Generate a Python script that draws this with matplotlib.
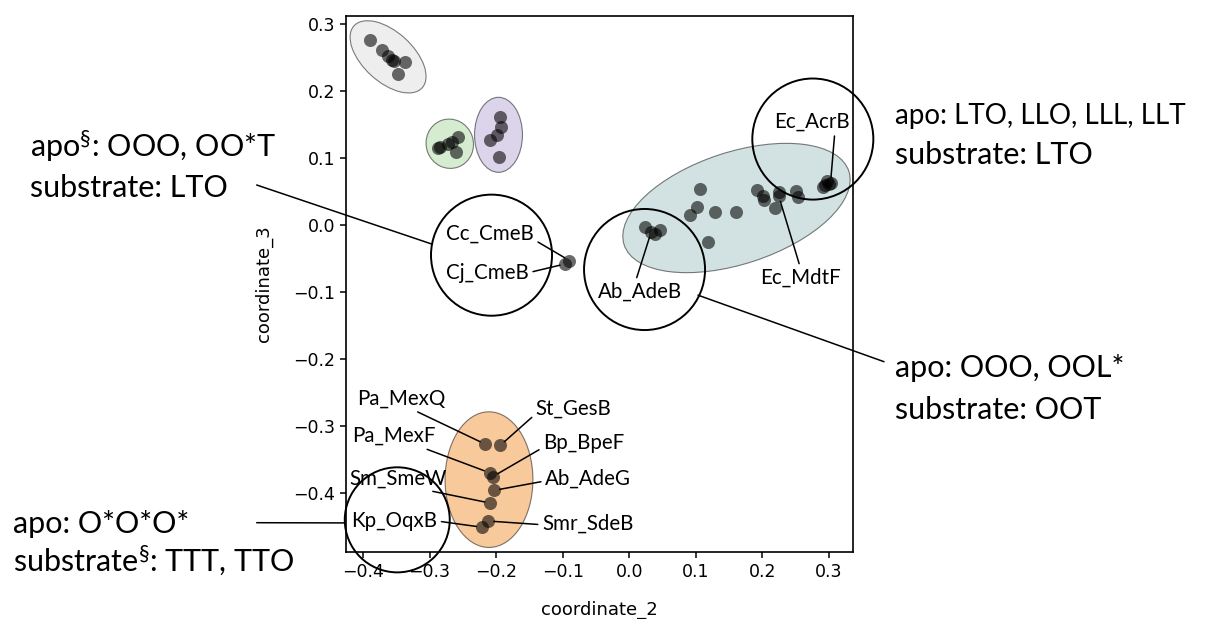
import matplotlib
matplotlib.use('Agg')
import matplotlib.pyplot as plt
from matplotlib.patches import Ellipse

plt.rcParams['mathtext.fontset'] = 'custom'
plt.rcParams['mathtext.rm'] = 'Lato'
plt.rcParams['mathtext.it'] = 'Lato'
plt.rcParams['mathtext.bf'] = 'Lato'

# MDS coordinates, one group per shaded cluster
gray_x = [-0.3895, -0.371, -0.362, -0.357, -0.353, -0.337, -0.348]
gray_y = [0.276, 0.261, 0.252, 0.247, 0.245, 0.243, 0.225]

green_x = [-0.288, -0.284, -0.272, -0.267, -0.257, -0.261]
green_y = [0.115, 0.117, 0.121, 0.124, 0.132, 0.109]

purple_x = [-0.194, -0.193, -0.199, -0.209, -0.1965]
purple_y = [0.161, 0.147, 0.134, 0.127, 0.101]

teal_x = [0.1058, 0.1018, 0.0917, 0.1293, 0.1609, 0.1178, 0.024, 0.033, 0.039, 0.0466,
          0.192, 0.201, 0.203, 0.2195, 0.2245, 0.2256, 0.251, 0.253,
          0.2913, 0.2973, 0.2997, 0.2947, 0.3023]
teal_y = [0.0537, 0.0264, 0.0149, 0.0199, 0.0199, -0.0258, -0.0025, -0.010, -0.0134, -0.0075,
          0.052, 0.0433, 0.0373, 0.0249, 0.0433, 0.0497, 0.0507, 0.0413,
          0.0563, 0.066, 0.0612, 0.0597, 0.0631]

cme_x = [-0.096, -0.090]
cme_y = [-0.058, -0.053]

orange_x = [-0.2165, -0.194, -0.210, -0.205, -0.203, -0.209, -0.2116, -0.2215]
orange_y = [-0.327, -0.329, -0.3697, -0.3754, -0.396, -0.415, -0.4418, -0.451]

groups = {
    'gray': (gray_x, gray_y),
    'green': (green_x, green_y),
    'purple': (purple_x, purple_y),
    'teal': (teal_x, teal_y),
    'cme': (cme_x, cme_y),
    'orange': (orange_x, orange_y),
}

# transporter labels: (name, group, index of point, label position, relpos of leader line)
labels = [
    ('Cc_CmeB', 'cme', 1, (-0.209, -0.013), (1.0, 0.2)),
    ('Cj_CmeB', 'cme', 0, (-0.213, -0.071), (1.0, 0.5)),
    ('Ab_AdeB', 'teal', 7, (0.0155, -0.0996), (0.45, 1.0)),
    ('Ec_AcrB', 'teal', 22, (0.2747, 0.154), (0.8, 0.0)),
    ('Ec_MdtF', 'teal', 14, (0.257, -0.0787), (0.5, 1.0)),
    ('Pa_MexQ', 'orange', 0, (-0.3418, -0.259), (0.6, 0.0)),
    ('St_GesB', 'orange', 1, (-0.0839, -0.2746), (0.0, 0.25)),
    ('Pa_MexF', 'orange', 2, (-0.3544, -0.315), (0.8, 0.0)),
    ('Bp_BpeF', 'orange', 3, (-0.0686, -0.326), (0.0, 0.3)),
    ('Ab_AdeG', 'orange', 4, (-0.062, -0.379), (0.0, 0.4)),
    ('Sm_SmeW', 'orange', 5, (-0.3469, -0.378), (0.7, 0.0)),
    ('Smr_SdeB', 'orange', 6, (-0.0626, -0.4458), (0.0, 0.45)),
    ('Kp_OqxB', 'orange', 7, (-0.353, -0.4418), (1.0, 0.5)),
]

# shaded cluster ellipses: center, width, height, angle, face colour
hulls = [
    ((-0.3624, 0.251), 0.138, 0.075, -42, '#eeeeee'),
    ((-0.2697, 0.1213), 0.071, 0.074, 20, '#d6ecd1'),
    ((-0.1965, 0.1346), 0.072, 0.112, 0, '#dcd4eb'),
    ((0.161, 0.0254), 0.355, 0.167, 18, '#d2e2e2'),
    ((-0.2108, -0.380), 0.132, 0.2025, 0, '#f8c99b'),
]

# open circles marking the annotated transporters
rings = [
    ((-0.207, -0.045), 0.1818, 0.1807),
    ((0.0229, -0.0664), 0.1818, 0.1807),
    ((0.2757, 0.1283), 0.1818, 0.1807),
    ((-0.3486, -0.440), 0.1577, 0.1568),
]

W, H = 1208, 619
fig = plt.figure(figsize=(W / 100, H / 100), dpi=100)
ax = fig.add_axes([346 / W, 1 - 552 / H, (852.7 - 346) / W, (552 - 15.7) / H])

for (c, w, h, ang, fc) in hulls:
    ax.add_patch(Ellipse(c, w, h, angle=ang, facecolor=fc, edgecolor=(0, 0, 0, 0.5),
                         lw=0.8, zorder=1))

for name, (xs, ys) in groups.items():
    ax.scatter(xs, ys, s=88, c='k', alpha=0.58, linewidths=0, zorder=3)

for (c, w, h) in rings:
    ax.add_patch(Ellipse(c, w, h, facecolor='none', edgecolor='k', lw=1.4,
                         clip_on=False, zorder=4))

for name, grp, idx, pos, rp in labels:
    xs, ys = groups[grp]
    ax.annotate(name, xy=(xs[idx], ys[idx]), xytext=pos, ha='center', va='center',
                fontsize=14.8, family='Lato', zorder=5, annotation_clip=False,
                arrowprops=dict(arrowstyle='-', lw=1.1, color='k', relpos=rp,
                                shrinkA=1, shrinkB=4))

ax.set_xlim(-0.4256, 0.3356)
ax.set_ylim(-0.488, 0.3124)
ax.set_xticks([-0.4, -0.3, -0.2, -0.1, 0.0, 0.1, 0.2, 0.3])
ax.set_yticks([-0.4, -0.3, -0.2, -0.1, 0.0, 0.1, 0.2, 0.3])
ax.tick_params(labelsize=12.5, length=4.5, width=1.1)
for sp in ax.spines.values():
    sp.set_linewidth(1.2)
ax.set_xlabel('coordinate_2', fontsize=13, labelpad=14)
ax.set_ylabel('coordinate_3', fontsize=13, labelpad=14)

# substrate notes outside the axes
notes = [
    (30, 157, 'apo$^{\\S}$: OOO, OO*T', 22),
    (30, 197, 'substrate: LTO', 22),
    (895, 124, 'apo: LTO, LLO, LLL, LLT', 20),
    (895, 164, 'substrate: LTO', 22),
    (895, 377, 'apo: OOO, OOL*', 22),
    (895, 419, 'substrate: OOT', 22),
    (13, 533, 'apo: O*O*O*', 22),
    (13, 572, 'substrate$^{\\S}$: TTT, TTO', 22),
]
for x, y, s, fs in notes:
    fig.text(x / W, 1 - y / H, s, fontsize=fs, family='Lato', va='baseline', ha='left')

# leader lines from the notes to the rings
leaders = [
    ((-0.2964, -0.0285), (256.7, 185)),
    ((0.1032, -0.1047), (884, 361.7)),
    ((-0.4271, -0.4446), (256.7, 522.7)),
]
for xy, (px, py) in leaders:
    ax.annotate('', xy=xy, xytext=(px / W, 1 - py / H), textcoords='figure fraction',
                annotation_clip=False,
                arrowprops=dict(arrowstyle='-', lw=1.1, color='k', shrinkA=0, shrinkB=0))

fig.savefig('out.png', dpi=100)
